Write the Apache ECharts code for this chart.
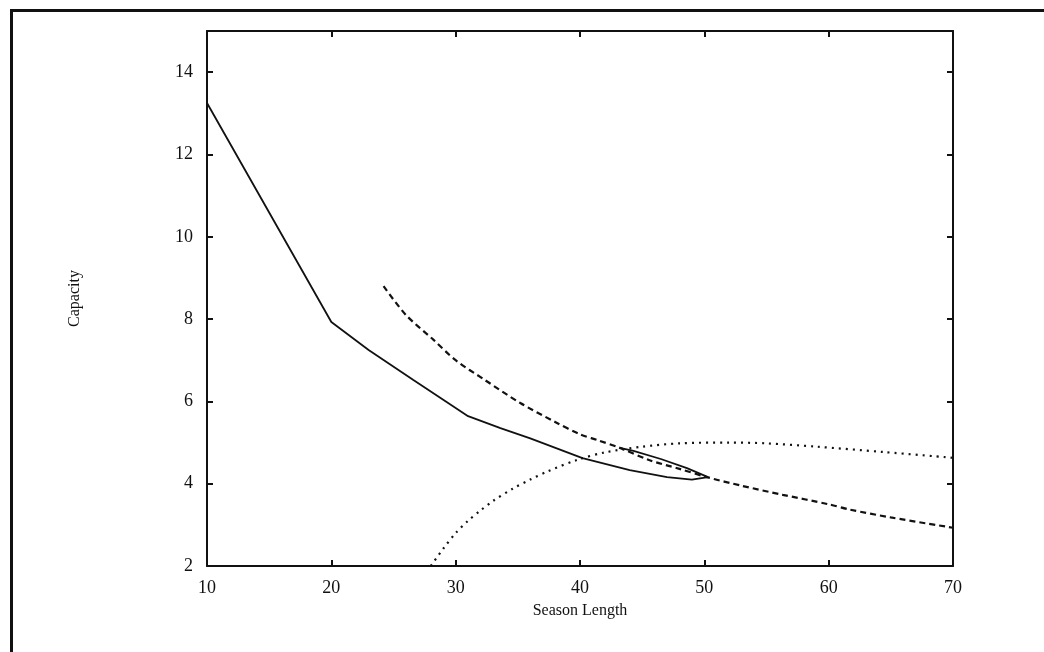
<!DOCTYPE html>
<html>
<head>
<meta charset="utf-8">
<script src="https://cdn.jsdelivr.net/npm/echarts@6/dist/echarts.min.js"></script>
<style>
  html, body { margin: 0; padding: 0; background: #fff; }
  #chart { width: 1044px; height: 652px; }
  .frame {
    position: absolute; left: 10px; top: 9px; right: 0; bottom: 0;
    border-top: 3px solid #111; border-left: 3px solid #111;
    pointer-events: none;
  }
</style>
</head>
<body>
<div id="chart"></div>
<div class="frame"></div>
<script>
// season length / capacity pairs
const solidCurve = [
  [10, 13.25], [20, 7.93], [23, 7.25], [26.6, 6.52], [29, 6.04], [31, 5.64],
  [33.6, 5.35], [36, 5.1], [40.2, 4.62], [44, 4.33], [47, 4.16], [49, 4.1],
  [50.3, 4.16], [48.6, 4.38], [46.5, 4.6], [44.3, 4.8], [43.2, 4.87]
];
const dashedCurve = [
  [24.2, 8.8], [26, 8.1], [28.2, 7.5], [30, 7.0], [32.3, 6.53], [35.2, 5.96],
  [38, 5.5], [40, 5.2], [41.4, 5.06], [43.2, 4.87], [45.6, 4.57], [48, 4.36],
  [50.2, 4.16], [53, 3.95], [56.3, 3.73], [60, 3.5], [61.7, 3.37], [65, 3.18],
  [70, 2.93]
];
const dottedCurve = [
  [28.0, 2.0], [29, 2.42], [30, 2.8], [31, 3.1], [32, 3.35], [33, 3.58],
  [34.6, 3.88], [36, 4.1], [37.4, 4.3], [39.8, 4.58], [42, 4.76], [45, 4.9],
  [48, 4.98], [52, 5.0], [55, 4.98], [59, 4.9], [64.4, 4.77], [70, 4.63]
];
const xTicks = [10, 20, 30, 40, 50, 60, 70];
const yTicks = [2, 4, 6, 8, 10, 12, 14];

const font = 'Liberation Serif, Times New Roman, serif';
const chart = echarts.init(document.getElementById('chart'));

const axisLine = { show: true, lineStyle: { color: '#111', width: 2 } };
const tick = { show: true, inside: true, length: 6, lineStyle: { color: '#111', width: 2 } };

chart.setOption({
  animation: false,
  grid: { left: 207, right: 91, top: 31, bottom: 86 },
  xAxis: [
    {
      type: 'value', min: xTicks[0], max: xTicks[xTicks.length - 1], interval: 10,
      name: 'Season Length', nameLocation: 'middle', nameGap: 37,
      nameTextStyle: { fontFamily: font, fontSize: 16, color: '#111' },
      axisLine, axisTick: tick, splitLine: { show: false },
      axisLabel: { fontFamily: font, fontSize: 18, color: '#111', margin: 13 }
    },
    {
      type: 'value', position: 'top', min: 10, max: 70, interval: 10,
      axisLine, axisTick: tick, splitLine: { show: false }, axisLabel: { show: false }
    }
  ],
  yAxis: [
    {
      type: 'value', min: 2, max: 15, interval: 2,
      name: 'Capacity', nameLocation: 'middle', nameGap: 124, nameRotate: 90,
      nameTextStyle: { fontFamily: font, fontSize: 16, color: '#111' },
      axisLine, axisTick: tick, splitLine: { show: false },
      axisLabel: {
        fontFamily: font, fontSize: 18, color: '#111', margin: 14,
        formatter: v => (yTicks.indexOf(v) >= 0 ? String(v) : '')
      }
    },
    {
      type: 'value', position: 'right', min: 2, max: 15, interval: 2,
      axisLine, axisTick: tick, splitLine: { show: false }, axisLabel: { show: false }
    }
  ],
  series: [
    {
      type: 'line', data: solidCurve, showSymbol: false, symbol: 'none',
      lineStyle: { color: '#111', width: 1.8, type: 'solid' }
    },
    {
      type: 'line', data: dashedCurve, showSymbol: false, symbol: 'none', smooth: 0.3,
      lineStyle: { color: '#111', width: 2.2, type: [6, 4] }
    },
    {
      type: 'line', data: dottedCurve, showSymbol: false, symbol: 'none', smooth: 0.3,
      lineStyle: { color: '#111', width: 2.2, type: [2, 5] }
    }
  ]
});
</script>
</body>
</html>
